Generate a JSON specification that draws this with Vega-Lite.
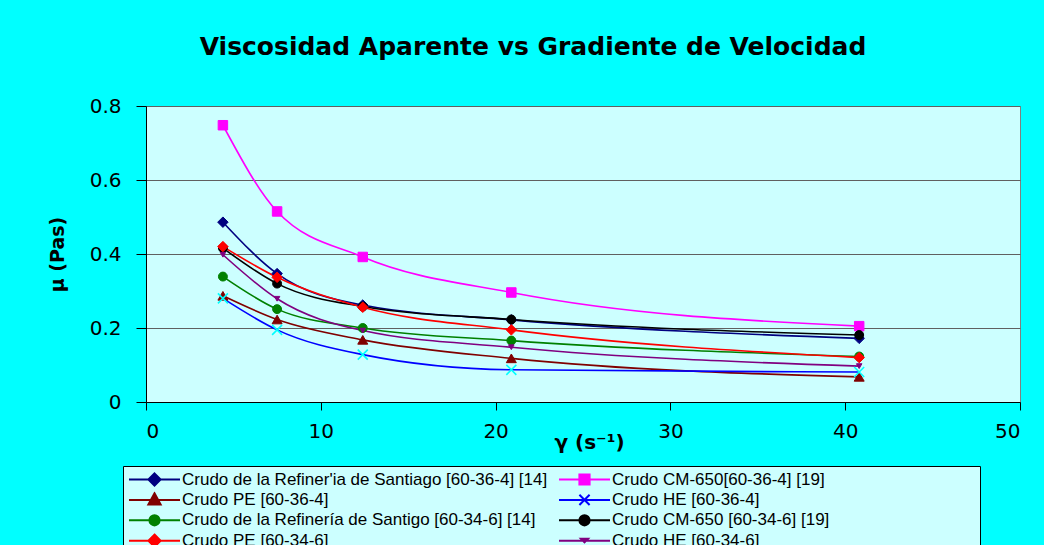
{
  "$schema": "https://vega.github.io/schema/vega-lite/v6.json",
  "width": 874,
  "height": 296,
  "autosize": {"type": "none"},
  "padding": {"left": 146, "top": 106, "right": 24, "bottom": 143},
  "background": "#00FFFF",
  "title": {"text": "Viscosidad Aparente vs Gradiente de Velocidad", "font": "DejaVu Sans", "fontSize": 25, "fontWeight": "bold", "color": "#000000", "anchor": "middle", "frame": "group", "dx": -50, "offset": 36},
  "config": {"view": {"fill": "#CCFFFF", "stroke": "#808080", "strokeWidth": 1}},
  "datasets": {
    "visc": [
      {"series": "Crudo de la Refiner'ia de Santiago [60-36-4] [14]", "gamma": 4.4, "mu": 0.486},
      {"series": "Crudo de la Refiner'ia de Santiago [60-36-4] [14]", "gamma": 7.5, "mu": 0.347},
      {"series": "Crudo de la Refiner'ia de Santiago [60-36-4] [14]", "gamma": 12.4, "mu": 0.262},
      {"series": "Crudo de la Refiner'ia de Santiago [60-36-4] [14]", "gamma": 20.9, "mu": 0.222},
      {"series": "Crudo de la Refiner'ia de Santiago [60-36-4] [14]", "gamma": 40.8, "mu": 0.172},
      {"series": "Crudo CM-650[60-36-4] [19]", "gamma": 4.4, "mu": 0.748},
      {"series": "Crudo CM-650[60-36-4] [19]", "gamma": 7.5, "mu": 0.515},
      {"series": "Crudo CM-650[60-36-4] [19]", "gamma": 12.4, "mu": 0.392},
      {"series": "Crudo CM-650[60-36-4] [19]", "gamma": 20.9, "mu": 0.296},
      {"series": "Crudo CM-650[60-36-4] [19]", "gamma": 40.8, "mu": 0.205},
      {"series": "Crudo PE [60-36-4]", "gamma": 4.4, "mu": 0.287},
      {"series": "Crudo PE [60-36-4]", "gamma": 7.5, "mu": 0.223},
      {"series": "Crudo PE [60-36-4]", "gamma": 12.4, "mu": 0.168},
      {"series": "Crudo PE [60-36-4]", "gamma": 20.9, "mu": 0.118},
      {"series": "Crudo PE [60-36-4]", "gamma": 40.8, "mu": 0.068},
      {"series": "Crudo HE [60-36-4]", "gamma": 4.4, "mu": 0.28},
      {"series": "Crudo HE [60-36-4]", "gamma": 7.5, "mu": 0.195},
      {"series": "Crudo HE [60-36-4]", "gamma": 12.4, "mu": 0.128},
      {"series": "Crudo HE [60-36-4]", "gamma": 20.9, "mu": 0.087},
      {"series": "Crudo HE [60-36-4]", "gamma": 40.8, "mu": 0.081},
      {"series": "Crudo de la Refinería de Santigo [60-34-6] [14]", "gamma": 4.4, "mu": 0.339},
      {"series": "Crudo de la Refinería de Santigo [60-34-6] [14]", "gamma": 7.5, "mu": 0.251},
      {"series": "Crudo de la Refinería de Santigo [60-34-6] [14]", "gamma": 12.4, "mu": 0.2},
      {"series": "Crudo de la Refinería de Santigo [60-34-6] [14]", "gamma": 20.9, "mu": 0.166},
      {"series": "Crudo de la Refinería de Santigo [60-34-6] [14]", "gamma": 40.8, "mu": 0.123},
      {"series": "Crudo CM-650 [60-34-6] [19]", "gamma": 4.4, "mu": 0.416},
      {"series": "Crudo CM-650 [60-34-6] [19]", "gamma": 7.5, "mu": 0.32},
      {"series": "Crudo CM-650 [60-34-6] [19]", "gamma": 12.4, "mu": 0.258},
      {"series": "Crudo CM-650 [60-34-6] [19]", "gamma": 20.9, "mu": 0.223},
      {"series": "Crudo CM-650 [60-34-6] [19]", "gamma": 40.8, "mu": 0.181},
      {"series": "Crudo PE [60-34-6]", "gamma": 4.4, "mu": 0.42},
      {"series": "Crudo PE [60-34-6]", "gamma": 7.5, "mu": 0.337},
      {"series": "Crudo PE [60-34-6]", "gamma": 12.4, "mu": 0.256},
      {"series": "Crudo PE [60-34-6]", "gamma": 20.9, "mu": 0.195},
      {"series": "Crudo PE [60-34-6]", "gamma": 40.8, "mu": 0.12},
      {"series": "Crudo HE [60-34-6]", "gamma": 4.4, "mu": 0.398},
      {"series": "Crudo HE [60-34-6]", "gamma": 7.5, "mu": 0.279},
      {"series": "Crudo HE [60-34-6]", "gamma": 12.4, "mu": 0.193},
      {"series": "Crudo HE [60-34-6]", "gamma": 20.9, "mu": 0.148},
      {"series": "Crudo HE [60-34-6]", "gamma": 40.8, "mu": 0.097}
    ]
  },
  "data": {"name": "visc"},
  "encoding": {
    "x": {
      "field": "gamma", "type": "quantitative",
      "scale": {"domain": [0, 50]},
      "axis": {
        "values": [0, 10, 20, 30, 40, 50], "grid": false,
        "domainColor": "#000000", "tickColor": "#000000", "tickSize": 8,
        "labelFont": "DejaVu Sans", "labelFontSize": 20, "labelColor": "#000000", "labelPadding": 11,
        "title": "γ (s⁻¹)", "titleFont": "DejaVu Sans", "titleFontSize": 20, "titleFontWeight": "bold", "titleColor": "#000000",
        "titleX": 443, "titleY": 46, "titleAlign": "center", "titleBaseline": "alphabetic"
      }
    },
    "y": {
      "field": "mu", "type": "quantitative",
      "scale": {"domain": [0, 0.8]},
      "axis": {
        "values": [0, 0.2, 0.4, 0.6, 0.8], "format": "~g", "grid": true, "gridColor": "#606060", "gridWidth": 1,
        "domainColor": "#000000", "tickColor": "#000000", "tickSize": 10,
        "labelFont": "DejaVu Sans", "labelFontSize": 20, "labelColor": "#000000", "labelPadding": 15,
        "title": "μ (Pas)", "titleFont": "DejaVu Sans", "titleFontSize": 19, "titleFontWeight": "bold", "titleColor": "#000000",
        "titleX": -89, "titleY": 148, "titleAngle": 270, "titleAlign": "center", "titleBaseline": "middle"
      }
    }
  },
  "layer": [
    {
      "mark": {"type": "line", "interpolate": "monotone", "strokeWidth": 1.6},
      "encoding": {
        "color": {
          "field": "series", "type": "nominal",
          "scale": {
            "domain": ["Crudo de la Refiner'ia de Santiago [60-36-4] [14]", "Crudo CM-650[60-36-4] [19]", "Crudo PE [60-36-4]", "Crudo HE [60-36-4]", "Crudo de la Refinería de Santigo [60-34-6] [14]", "Crudo CM-650 [60-34-6] [19]", "Crudo PE [60-34-6]", "Crudo HE [60-34-6]"],
            "range": ["#000080", "#FF00FF", "#800000", "#0000FF", "#008000", "#000000", "#FF0000", "#800080"]
          },
          "legend": {
            "orient": "none", "legendX": -23, "legendY": 360, "columns": 2, "direction": "horizontal",
            "title": null,
            "fillColor": "#CCFFFF", "strokeColor": "#000000", "padding": 5,
            "labelFont": "Liberation Sans", "labelFontSize": 17, "labelColor": "#000000", "labelLimit": 600,
            "symbolSize": 2601, "clipHeight": 17, "rowPadding": 2.4, "columnPadding": 10, "labelOffset": 1,
            "symbolStrokeWidth": 2,
            "encode": {
              "entries": {
                "update": {
                  "width": {"value": 417}
                }
              },
              "symbols": {
                "update": {
                  "shape": {"signal": "['M-1,0H1M0,-0.24L0.24,0L0,0.24L-0.24,0Z', 'M-1,0H1M-0.2,-0.2H0.2V0.2H-0.2Z', 'M-1,0H1M0,-0.26L0.24,0.18H-0.24Z', 'M-1,0H1M-0.2,-0.2L0.2,0.2M-0.2,0.2L0.2,-0.2', 'M-1,0H1M-0.2,0A0.2,0.2 0 1,0 0.2,0A0.2,0.2 0 1,0 -0.2,0Z', 'M-1,0H1M-0.2,0A0.2,0.2 0 1,0 0.2,0A0.2,0.2 0 1,0 -0.2,0Z', 'M-1,0H1M0,-0.24L0.24,0L0,0.24L-0.24,0Z', 'M-1,0H1M-0.14,-0.08H0.14L0,0.06Z'][datum.index]"},
                  "fill": {"signal": "['#000080', '#FF00FF', '#800000', '#00FFFF', '#008000', '#000000', '#FF0000', '#800080'][datum.index]"},
                  "strokeWidth": {"value": 2},
                  "opacity": {"value": 1}
                }
              }
            }
          }
        }
      }
    },
    {"transform": [{"filter": {"field": "series", "equal": "Crudo de la Refiner'ia de Santiago [60-36-4] [14]"}}], "mark": {"type": "point", "shape": "diamond", "filled": true, "fill": "#000080", "stroke": "#000080", "strokeWidth": 1, "size": 110, "opacity": 1}},
    {"transform": [{"filter": {"field": "series", "equal": "Crudo CM-650[60-36-4] [19]"}}], "mark": {"type": "point", "shape": "square", "filled": true, "fill": "#FF00FF", "stroke": "#FF00FF", "strokeWidth": 1, "size": 90, "opacity": 1}},
    {"transform": [{"filter": {"field": "series", "equal": "Crudo PE [60-36-4]"}}], "mark": {"type": "point", "shape": "triangle-up", "filled": true, "fill": "#800000", "stroke": "#800000", "strokeWidth": 1, "size": 100, "opacity": 1}},
    {"transform": [{"filter": {"field": "series", "equal": "Crudo HE [60-36-4]"}}], "mark": {"type": "point", "shape": "M-1,-1L1,1M-1,1L1,-1", "filled": false, "stroke": "#00FFFF", "strokeWidth": 1.6, "size": 100, "opacity": 1}},
    {"transform": [{"filter": {"field": "series", "equal": "Crudo de la Refinería de Santigo [60-34-6] [14]"}}], "mark": {"type": "point", "shape": "circle", "filled": true, "fill": "#008000", "stroke": "#008000", "strokeWidth": 1, "size": 80, "opacity": 1}},
    {"transform": [{"filter": {"field": "series", "equal": "Crudo CM-650 [60-34-6] [19]"}}], "mark": {"type": "point", "shape": "circle", "filled": true, "fill": "#000000", "stroke": "#000000", "strokeWidth": 1, "size": 80, "opacity": 1}},
    {"transform": [{"filter": {"field": "series", "equal": "Crudo PE [60-34-6]"}}], "mark": {"type": "point", "shape": "diamond", "filled": true, "fill": "#FF0000", "stroke": "#FF0000", "strokeWidth": 1, "size": 110, "opacity": 1}},
    {"transform": [{"filter": {"field": "series", "equal": "Crudo HE [60-34-6]"}}], "mark": {"type": "point", "shape": "triangle-down", "filled": true, "fill": "#800080", "stroke": "#800080", "strokeWidth": 1, "size": 30, "opacity": 1}}
  ]
}
